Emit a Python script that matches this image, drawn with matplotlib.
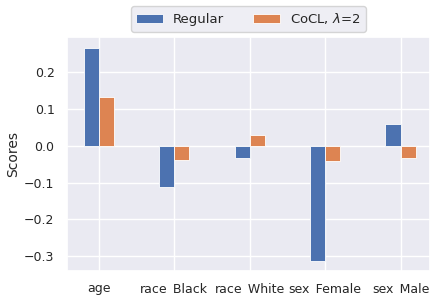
import numpy as np
import matplotlib
matplotlib.use("Agg")
import matplotlib.pyplot as plt
import seaborn as sns

# feature names and scores
features = ["age", "race_Black", "race_White", "sex_Female", "sex_Male"]
regular = [0.265, -0.111, -0.032, -0.312, 0.060]
cocl = [0.132, -0.040, 0.030, -0.042, -0.033]

sns.set_theme(style="darkgrid")
plt.rcParams["font.family"] = ["DejaVu Sans"]

fig = plt.figure(figsize=(4.3, 2.95), dpi=100)
ax = fig.add_axes([67/430, 24/295, 363/430, 234/295])

x = np.arange(len(features))
w = 0.2
ax.bar(x - w/2, regular, w, color="#4C72B0", edgecolor="white", linewidth=0.6, label="Regular")
ax.bar(x + w/2, cocl, w, color="#DD8452", edgecolor="white", linewidth=0.6, label=r"CoCL, $\lambda$=2")

ax.set_xticks(x)
ax.set_xticklabels(features, fontsize=9)
ax.tick_params(axis="y", labelsize=9, pad=3)
ax.tick_params(axis="x", pad=2)
ax.set_yticks([-0.3, -0.2, -0.1, 0.0, 0.1, 0.2])
ax.set_ylabel("Scores", fontsize=10)
ax.yaxis.set_label_coords(-0.128, 0.5)
ax.set_xlim(-0.42, 4.39)
ax.set_ylim(-0.34, 0.295)

ax.legend(loc="upper center", bbox_to_anchor=(0.5, 1.16), ncol=2, fontsize=9.5,
          frameon=True, columnspacing=2.2)

fig.savefig("out.png", dpi=100)
